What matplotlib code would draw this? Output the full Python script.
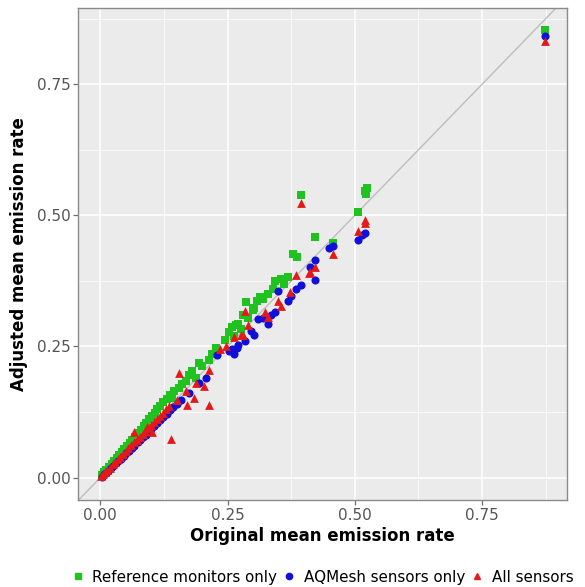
import matplotlib
matplotlib.use("Agg")
import matplotlib.pyplot as plt
from matplotlib.lines import Line2D
from matplotlib.ticker import MultipleLocator

# ---- data ----
ref_x = [0.004, 0.008, 0.012, 0.017, 0.022, 0.027, 0.032, 0.037, 0.042, 0.047, 0.052, 0.058,
         0.063, 0.068, 0.074, 0.079, 0.085, 0.090, 0.096, 0.101, 0.107, 0.112, 0.118, 0.124,
         0.130, 0.136, 0.141, 0.145, 0.154, 0.160, 0.168, 0.175, 0.180, 0.188, 0.193, 0.200,
         0.213, 0.220, 0.227, 0.245, 0.252, 0.258, 0.262, 0.266, 0.271, 0.277, 0.280, 0.287,
         0.290, 0.300, 0.301, 0.307, 0.314, 0.320, 0.330, 0.340, 0.344, 0.355, 0.360, 0.369,
         0.379, 0.387, 0.395, 0.422, 0.457, 0.506, 0.520, 0.522, 0.524, 0.874]
ref_y = [0.005, 0.010, 0.014, 0.020, 0.026, 0.031, 0.037, 0.043, 0.048, 0.054, 0.060, 0.066,
         0.072, 0.078, 0.085, 0.091, 0.098, 0.104, 0.111, 0.117, 0.124, 0.130, 0.137, 0.144,
         0.150, 0.158, 0.152, 0.165, 0.171, 0.178, 0.184, 0.195, 0.203, 0.190, 0.218, 0.212,
         0.224, 0.235, 0.248, 0.262, 0.278, 0.288, 0.270, 0.290, 0.293, 0.284, 0.310, 0.334,
         0.305, 0.320, 0.323, 0.336, 0.344, 0.340, 0.350, 0.360, 0.374, 0.378, 0.370, 0.382,
         0.427, 0.421, 0.538, 0.459, 0.447, 0.507, 0.547, 0.541, 0.552, 0.853]

aq_x = [0.003, 0.007, 0.011, 0.015, 0.020, 0.025, 0.030, 0.035, 0.040, 0.046, 0.051, 0.056,
        0.062, 0.067, 0.073, 0.078, 0.084, 0.089, 0.095, 0.100, 0.106, 0.112, 0.118, 0.124,
        0.130, 0.137, 0.143, 0.150, 0.158, 0.174, 0.193, 0.207, 0.229, 0.252, 0.258, 0.262,
        0.268, 0.271, 0.285, 0.295, 0.301, 0.310, 0.320, 0.330, 0.335, 0.344, 0.350, 0.369,
        0.375, 0.385, 0.395, 0.412, 0.422, 0.422, 0.450, 0.457, 0.506, 0.515, 0.520, 0.874]
aq_y = [0.002, 0.006, 0.009, 0.013, 0.018, 0.022, 0.027, 0.032, 0.036, 0.042, 0.046, 0.051,
        0.057, 0.061, 0.067, 0.072, 0.077, 0.082, 0.088, 0.092, 0.098, 0.104, 0.110, 0.115,
        0.121, 0.128, 0.134, 0.141, 0.147, 0.162, 0.180, 0.190, 0.233, 0.241, 0.246, 0.236,
        0.248, 0.252, 0.261, 0.280, 0.271, 0.303, 0.305, 0.293, 0.310, 0.316, 0.355, 0.336,
        0.346, 0.359, 0.368, 0.402, 0.414, 0.376, 0.437, 0.442, 0.453, 0.462, 0.466, 0.842]

all_x = [0.002, 0.006, 0.010, 0.014, 0.019, 0.024, 0.029, 0.034, 0.039, 0.044, 0.050, 0.055,
         0.061, 0.066, 0.071, 0.077, 0.083, 0.088, 0.094, 0.100, 0.105, 0.111, 0.117, 0.123,
         0.129, 0.135, 0.066, 0.092, 0.102, 0.139, 0.150, 0.154, 0.168, 0.170, 0.184, 0.188,
         0.203, 0.213, 0.213, 0.236, 0.246, 0.262, 0.277, 0.281, 0.285, 0.291, 0.324, 0.330,
         0.350, 0.355, 0.373, 0.385, 0.410, 0.412, 0.422, 0.457, 0.395, 0.506, 0.520, 0.520,
         0.874]
all_y = [0.003, 0.006, 0.010, 0.015, 0.019, 0.025, 0.029, 0.035, 0.040, 0.045, 0.051, 0.056,
         0.062, 0.067, 0.072, 0.078, 0.084, 0.089, 0.095, 0.101, 0.106, 0.112, 0.118, 0.124,
         0.130, 0.136, 0.086, 0.096, 0.086, 0.073, 0.148, 0.199, 0.165, 0.139, 0.152, 0.180,
         0.175, 0.205, 0.139, 0.246, 0.250, 0.269, 0.271, 0.271, 0.318, 0.290, 0.316, 0.306,
         0.336, 0.327, 0.353, 0.387, 0.391, 0.392, 0.402, 0.427, 0.523, 0.470, 0.492, 0.485,
         0.832]

series_labels = ["Reference monitors only", "AQMesh sensors only", "All sensors"]
tick_vals = [0.00, 0.25, 0.50, 0.75]
tick_labels = ["0.00", "0.25", "0.50", "0.75"]

# ---- styling ----
GREEN, BLUE, RED = "#1FC21F", "#1010D8", "#E41A1A"
fig = plt.figure(figsize=(5.85, 5.87), dpi=100)
ax = fig.add_axes([0.1333, 0.148, 0.836, 0.838])
ax.set_facecolor("#EBEBEB")

ax.axline((0, 0), slope=1, color="#BDBDBD", lw=1.0, zorder=1)
ax.scatter(ref_x, ref_y, marker="s", s=32, color=GREEN, linewidths=0, zorder=3)
ax.scatter(aq_x, aq_y, marker="o", s=34, color=BLUE, linewidths=0, zorder=4)
ax.scatter(all_x, all_y, marker="^", s=40, color=RED, linewidths=0, zorder=5)

ax.set_xlim(-0.044, 0.917)
ax.set_ylim(-0.043, 0.895)
ax.set_xticks(tick_vals, tick_labels)
ax.set_yticks(tick_vals, tick_labels)
ax.xaxis.set_minor_locator(MultipleLocator(0.125))
ax.yaxis.set_minor_locator(MultipleLocator(0.125))
ax.grid(True, which="major", color="white", lw=1.1, zorder=0)
ax.grid(True, which="minor", color="white", lw=0.55, zorder=0)
ax.set_axisbelow(True)
ax.tick_params(which="major", length=3.5, width=0.9, color="#6E6E6E",
               labelcolor="#555555", labelsize=11, pad=2)
ax.tick_params(which="minor", length=0)
for sp in ax.spines.values():
    sp.set_color("#8A8A8A")
    sp.set_linewidth(1.0)

ax.set_xlabel("Original mean emission rate", fontsize=12, fontweight="bold", labelpad=3)
ax.set_ylabel("Adjusted mean emission rate", fontsize=12, fontweight="bold", labelpad=6)

handles = [
    Line2D([], [], marker="s", ls="none", color=GREEN, markersize=4.5),
    Line2D([], [], marker="o", ls="none", color=BLUE, markersize=4.5),
    Line2D([], [], marker="^", ls="none", color=RED, markersize=5),
]
fig.legend(handles, series_labels, loc="center left", bbox_to_anchor=(0.110, 0.017),
           ncol=3, frameon=False, fontsize=10.9, handlelength=1.0, handletextpad=0.45,
           columnspacing=0.3, borderaxespad=0)

fig.savefig("out.png", dpi=100)
